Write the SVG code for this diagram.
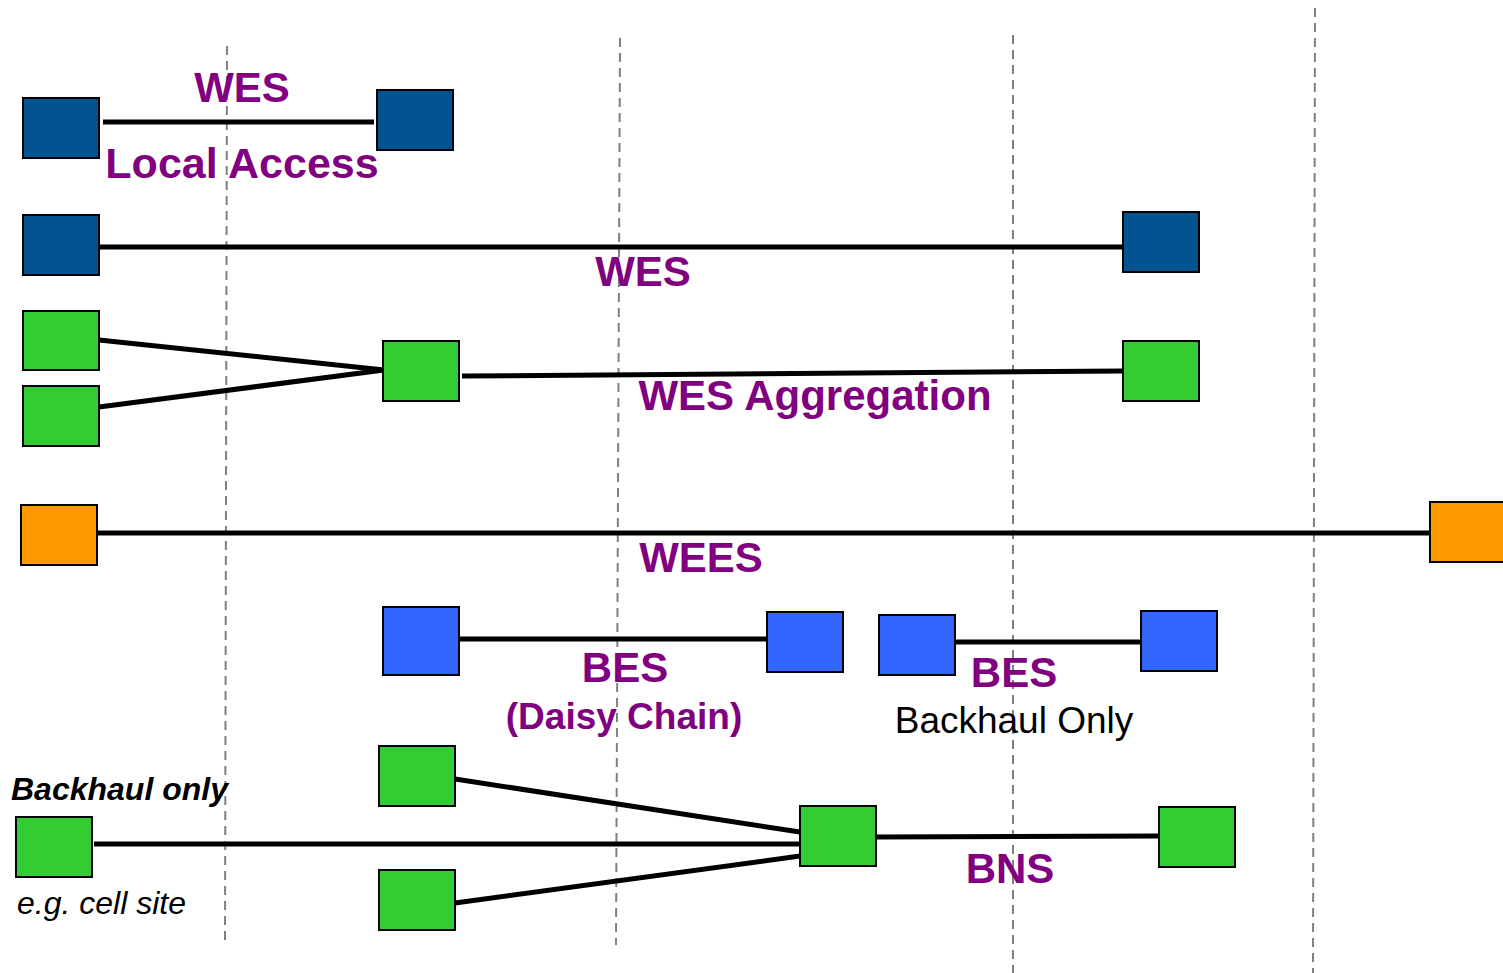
<svg xmlns="http://www.w3.org/2000/svg" width="1503" height="973" viewBox="0 0 1503 973">
  <style>
    .bg { fill: #ffffff; }
    .guide { stroke: #808080; stroke-width: 2; stroke-dasharray: 9 6; fill: none; }
    .link { stroke: #000000; stroke-width: 5; fill: none; }
    .box { stroke: #000000; stroke-width: 2; }
    .navy { fill: #02538F; }
    .green { fill: #33CC33; }
    .orange { fill: #FF9900; }
    .blue { fill: #3366FF; }
    .lbl { font-family: "Liberation Sans", Arial, sans-serif; font-weight: bold; fill: #800080; font-size: 42px; }
    .lbl.sm { font-size: 37px; }
    .lbl.lg { font-size: 43px; }
    .note { font-family: "Liberation Sans", Arial, sans-serif; fill: #000000; }
  </style>
  <rect class="bg" x="0" y="0" width="1503" height="973"/>

  <!-- vertical guide lines -->
  <g id="guides">
    <line class="guide" x1="227" y1="46" x2="225" y2="945"/>
    <line class="guide" x1="620" y1="38" x2="616" y2="945"/>
    <line class="guide" x1="1013" y1="35" x2="1013" y2="973"/>
    <line class="guide" x1="1315" y1="8" x2="1313" y2="973"/>
  </g>

  <!-- connectors -->
  <g id="connectors">
    <line class="link" x1="103" y1="122" x2="374" y2="122"/>
    <line class="link" x1="99" y1="247" x2="1127" y2="247"/>
    <line class="link" x1="99" y1="340" x2="384" y2="370"/>
    <line class="link" x1="99" y1="407" x2="384" y2="370"/>
    <line class="link" x1="462" y1="376" x2="1123" y2="371"/>
    <line class="link" x1="97" y1="533" x2="1433" y2="533"/>
    <line class="link" x1="459" y1="639" x2="767" y2="639"/>
    <line class="link" x1="955" y1="642" x2="1141" y2="642"/>
    <line class="link" x1="455" y1="779" x2="800" y2="832"/>
    <line class="link" x1="94" y1="844" x2="800" y2="844"/>
    <line class="link" x1="455" y1="903" x2="800" y2="856"/>
    <line class="link" x1="876" y1="837" x2="1159" y2="836"/>
  </g>

  <!-- WES local access -->
  <g id="wes-local-a"><rect class="box navy" x="23" y="98" width="76" height="60"/></g>
  <g id="wes-local-b"><rect class="box navy" x="377" y="90" width="76" height="60"/></g>

  <!-- WES -->
  <g id="wes-a"><rect class="box navy" x="23" y="215" width="76" height="60"/></g>
  <g id="wes-b"><rect class="box navy" x="1123" y="212" width="76" height="60"/></g>

  <!-- WES aggregation -->
  <g id="agg-in-1"><rect class="box green" x="23" y="311" width="76" height="59"/></g>
  <g id="agg-in-2"><rect class="box green" x="23" y="386" width="76" height="60"/></g>
  <g id="agg-hub"><rect class="box green" x="383" y="341" width="76" height="60"/></g>
  <g id="agg-out"><rect class="box green" x="1123" y="341" width="76" height="60"/></g>

  <!-- WEES -->
  <g id="wees-a"><rect class="box orange" x="21" y="505" width="76" height="60"/></g>
  <g id="wees-b"><rect class="box orange" x="1430" y="502" width="76" height="60"/></g>

  <!-- BES daisy chain -->
  <g id="bes-chain-a"><rect class="box blue" x="383" y="607" width="76" height="68"/></g>
  <g id="bes-chain-b"><rect class="box blue" x="767" y="612" width="76" height="60"/></g>

  <!-- BES backhaul only -->
  <g id="bes-bh-a"><rect class="box blue" x="879" y="615" width="76" height="60"/></g>
  <g id="bes-bh-b"><rect class="box blue" x="1141" y="611" width="76" height="60"/></g>

  <!-- BNS -->
  <g id="bns-in-1"><rect class="box green" x="379" y="746" width="76" height="60"/></g>
  <g id="bns-cell"><rect class="box green" x="16" y="817" width="76" height="60"/></g>
  <g id="bns-in-2"><rect class="box green" x="379" y="870" width="76" height="60"/></g>
  <g id="bns-hub"><rect class="box green" x="800" y="806" width="76" height="60"/></g>
  <g id="bns-out"><rect class="box green" x="1159" y="807" width="76" height="60"/></g>

  <!-- labels -->
  <g id="labels">
    <text class="lbl" x="242" y="102" text-anchor="middle">WES</text>
    <text class="lbl lg" x="242" y="178" text-anchor="middle">Local Access</text>
    <text class="lbl" x="643" y="286" text-anchor="middle">WES</text>
    <text class="lbl" x="815" y="410" text-anchor="middle">WES Aggregation</text>
    <text class="lbl" x="701" y="572" text-anchor="middle">WEES</text>
    <text class="lbl" x="625" y="682" text-anchor="middle">BES</text>
    <text class="lbl sm" x="624" y="729" text-anchor="middle">(Daisy Chain)</text>
    <text class="lbl" x="1014" y="687" text-anchor="middle">BES</text>
    <text class="note" x="1014" y="733" text-anchor="middle" font-size="37">Backhaul Only</text>
    <text class="lbl" x="1010" y="883" text-anchor="middle">BNS</text>
    <text class="note" x="11" y="800" font-size="32" font-weight="bold" font-style="italic">Backhaul only</text>
    <text class="note" x="17" y="914" font-size="32" font-style="italic">e.g. cell site</text>
  </g>
</svg>
